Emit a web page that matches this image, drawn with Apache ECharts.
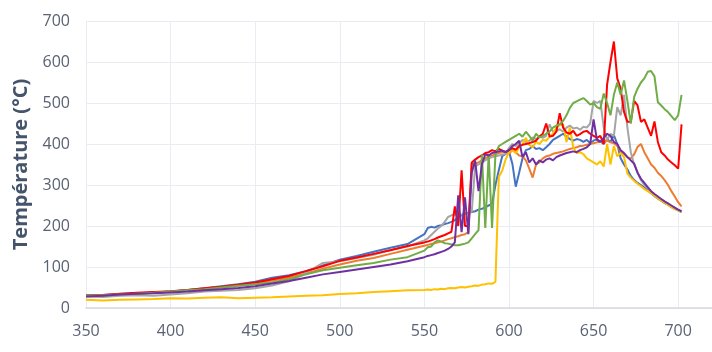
<!DOCTYPE html>
<html>
<head>
<meta charset="utf-8">
<script src="https://cdn.jsdelivr.net/npm/echarts@6/dist/echarts.min.js"></script>
<style>
html,body{margin:0;padding:0;background:#fff;}
#chart{width:712px;height:352px;}
</style>
</head>
<body>
<div id="chart"></div>
<script>
const xs = [350,360,370,380,390,400,410,420,430,440,450,460,470,480,490,500,510,520,530,540,550,
552,554,556,558,560,562,564,566,568,570,
572,574,576,578,580,582,584,586,588,590,
592,594,596,598,600,602,604,606,608,610,
612,614,616,618,620,622,624,626,628,630,
632,634,636,638,640,642,644,646,648,650,
652,654,656,658,660,662,664,666,668,670,
672,674,676,678,680,682,684,686,688,690,
692,694,696,698,700,702];

const blue = [31,32,34,36,38,40,44,48,53,58,64,74,80,90,104,118,127,137,147,156,180,
195,198,196,200,202,205,207,210,214,222,
226,230,232,234,236,240,242,246,250,254,
300,336,370,376,382,352,296,330,365,385,
388,395,388,390,385,392,400,410,415,420,
425,418,412,408,412,410,405,410,402,408,
412,406,400,412,405,422,400,365,350,338,
322,312,305,300,294,288,280,273,267,262,
256,252,246,242,238,234];

const orange = [30,31,33,35,37,40,43,47,51,55,60,67,74,84,96,106,115,122,132,142,152,
154,156,158,160,162,165,168,170,173,175,
178,180,185,352,352,355,360,365,370,372,
375,378,380,382,376,385,380,372,370,360,
340,318,350,355,365,370,372,376,378,380,
382,385,388,390,392,395,396,398,400,402,
404,405,405,408,404,402,396,382,376,368,
365,375,393,400,380,365,350,342,330,322,
312,300,285,272,258,248];

const gray = [28,27,30,31,30,33,36,40,42,44,48,55,65,85,110,114,122,130,142,150,165,
170,178,186,194,200,210,222,226,228,226,
228,230,232,235,345,350,355,360,365,368,
370,372,374,376,390,400,395,402,410,405,
408,416,412,418,415,420,448,430,432,436,
430,440,445,438,440,435,442,440,450,505,
500,505,440,410,425,420,490,470,520,440,
380,350,330,312,300,292,284,276,270,264,
258,253,248,243,239,235];

const yellow = [20,18,20,21,22,24,23,25,26,24,25,26,28,30,31,34,36,39,41,43,44,
45,44,46,45,47,46,48,49,48,50,
51,50,52,53,55,54,57,58,60,59,
64,320,335,362,380,385,378,392,400,415,
398,392,405,400,410,408,418,425,440,446,
448,405,440,392,378,380,375,365,360,355,
350,358,345,400,350,395,370,378,368,328,
318,310,303,297,290,285,280,274,268,262,
257,252,246,242,238,235];

const red = [30,32,35,37,39,41,44,48,52,57,62,70,78,90,102,115,123,132,141,151,160,
162,165,168,172,175,178,182,186,248,200,
336,200,200,355,362,368,372,378,380,385,
382,388,384,380,385,390,386,395,398,400,
402,405,408,418,425,450,418,420,430,475,
440,428,425,432,420,424,430,432,425,420,
415,420,400,545,600,650,560,535,478,454,
454,505,494,454,460,440,420,455,405,380,
372,362,355,348,340,448];

const green = [30,31,33,35,37,40,43,46,50,54,58,62,70,82,92,98,104,110,118,124,140,
148,150,160,165,162,158,157,155,153,153,
155,157,160,170,180,190,375,195,375,195,
375,395,400,405,410,415,420,425,418,430,
420,408,425,416,420,425,430,440,445,448,
456,470,488,500,504,508,512,505,496,500,
490,486,523,500,470,520,550,520,555,505,
450,515,535,550,560,576,578,565,502,494,
485,478,468,458,470,520];

const purple = [28,30,33,35,36,38,40,43,46,49,53,60,66,74,82,88,94,100,106,114,124,
127,129,131,134,137,140,144,150,160,275,
185,270,180,330,360,285,350,375,372,378,
380,382,384,380,385,395,400,408,368,380,
355,365,350,360,355,362,365,360,368,372,
375,378,380,382,380,385,388,392,400,460,
410,405,415,425,420,405,400,385,378,368,
360,352,330,315,305,295,285,278,272,266,
260,255,250,245,240,236];

const seriesDefs = [
  {name:'S1', color:'#4472C4', values:blue},
  {name:'S2', color:'#ED7D31', values:orange},
  {name:'S3', color:'#A5A5A5', values:gray},
  {name:'S4', color:'#FFC000', values:yellow},
  {name:'S5', color:'#FF0000', values:red},
  {name:'S6', color:'#70AD47', values:green},
  {name:'S7', color:'#7030A0', values:purple}
];

const yTitle = 'Température (°C)';
const font = '"Open Sans", "Noto Sans", sans-serif';

const chart = echarts.init(document.getElementById('chart'), null, {renderer:'canvas'});
chart.setOption({
  animation:false,
  backgroundColor:'#ffffff',
  grid:{left:86, right:0, top:21, bottom:44, containLabel:false},
  xAxis:{
    type:'value', min:350, max:720, interval:50,
    axisLine:{show:true, lineStyle:{color:'#d5d9e0', width:1.5}},
    axisTick:{show:false},
    axisLabel:{color:'#596273', fontSize:16, fontFamily:font, margin:15, showMaxLabel:false,
      formatter:function(v){return v>700?'':String(v);}},
    splitLine:{show:true, lineStyle:{color:'#e9ecf1', width:1}}
  },
  yAxis:{
    type:'value', min:0, max:700, interval:100,
    axisLine:{show:false},
    axisTick:{show:false},
    axisLabel:{color:'#596273', fontSize:16, fontFamily:font, margin:16},
    splitLine:{show:true, lineStyle:{color:'#e9ecf1', width:1}},
    name:yTitle, nameLocation:'middle', nameGap:40,
    nameTextStyle:{fontSize:20, fontWeight:'bold', color:'#44546a', fontFamily:font}
  },
  series: seriesDefs.map(s => ({
    name:s.name, type:'line', showSymbol:false, symbol:'none',
    lineStyle:{width:2, color:s.color}, itemStyle:{color:s.color},
    data: xs.map((x,i)=>[x, s.values[i]])
  }))
});
</script>
</body>
</html>
